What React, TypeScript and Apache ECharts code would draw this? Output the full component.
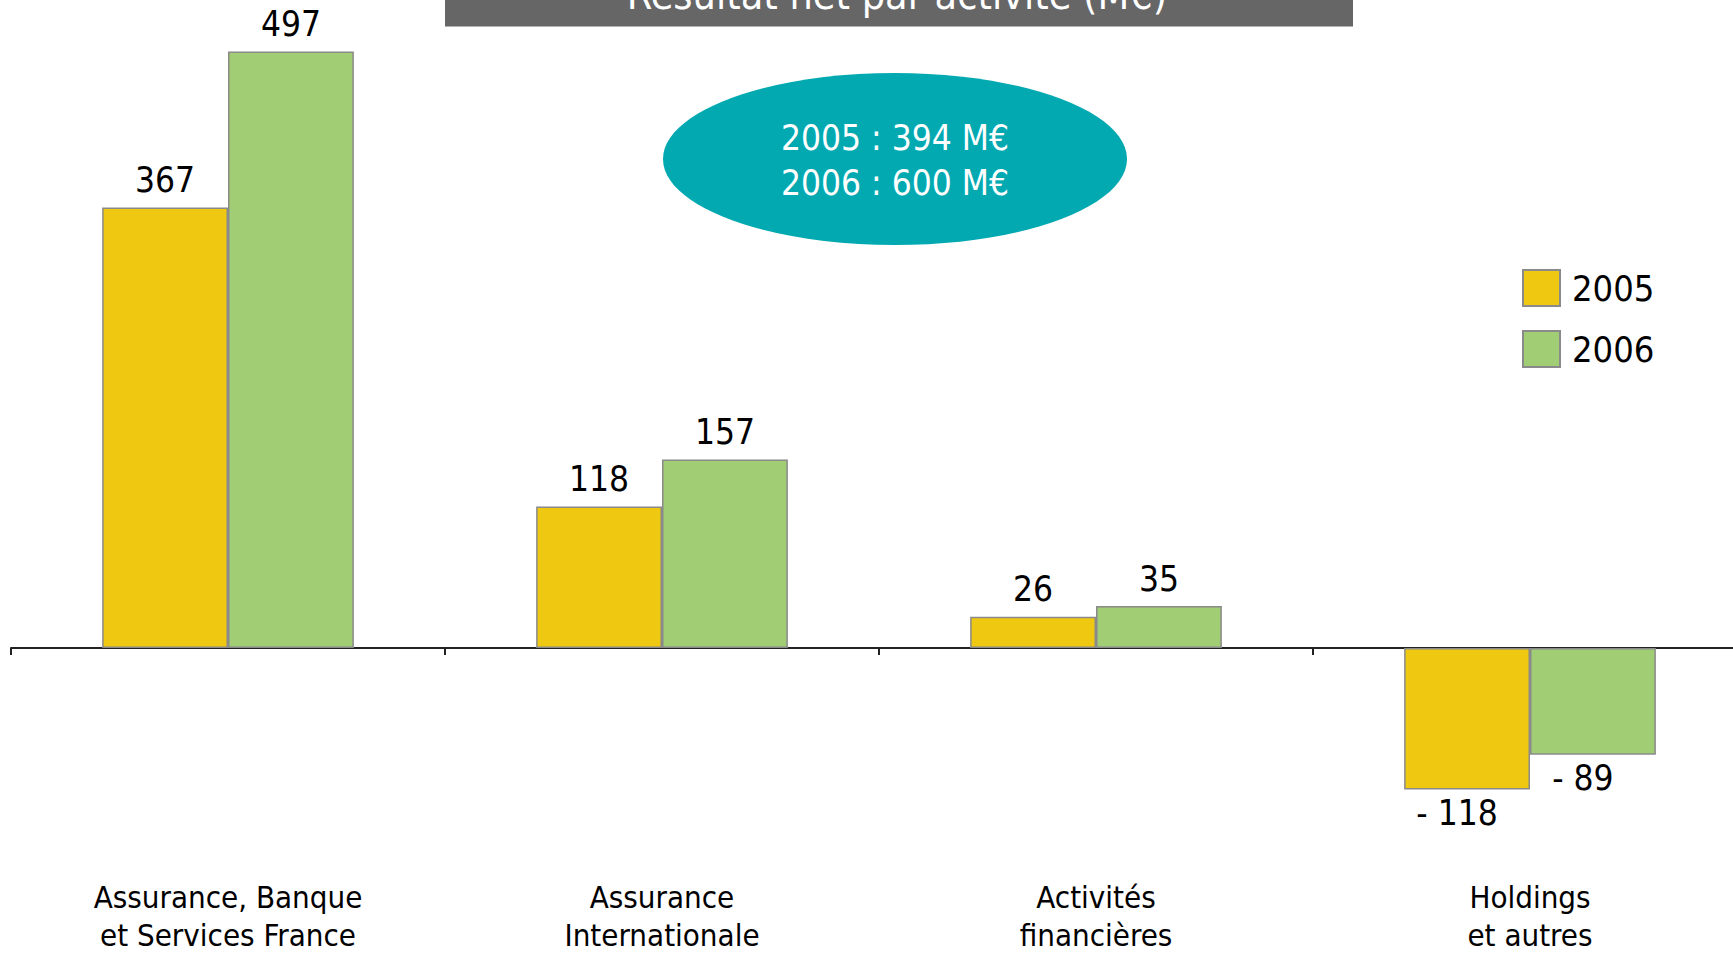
import React, { useEffect, useRef } from "react";
import * as echarts from "echarts";

const categories = [
  "Assurance, Banque\net Services France",
  "Assurance\nInternationale",
  "Activités\nfinancières",
  "Holdings\net autres",
];
const seriesNames = ["2005", "2006"];
const values2005 = [367, 118, 26, -118];
const values2006 = [497, 157, 35, -89];
const titleText = "Résultat net par activité (M€)";
const totalsText = "2005 : 394 M€\n2006 : 600 M€";

const FONT = "'DejaVu Sans Condensed', 'DejaVu Sans', sans-serif";

function fmt(v: number) {
  return v < 0 ? "- " + Math.abs(v) : String(v);
}

function toData(vals: number[]) {
  return vals.map((v) => ({
    value: v,
    label:
      v < 0
        ? { position: "bottom", distance: 4, offset: [-10, 2] }
        : { position: "top", distance: 10 },
  }));
}

export default function App() {
  const ref = useRef<HTMLDivElement>(null);
  useEffect(() => {
    if (!ref.current) return;
    const chart = echarts.init(ref.current, undefined, { renderer: "svg" });
    const labelCommon = {
      show: true,
      color: "#000",
      fontSize: 35,
      fontFamily: FONT,
      formatter: (p: any) => fmt(p.value),
    };
    chart.setOption({
      animation: false,
      backgroundColor: "#fff",
      textStyle: { fontFamily: FONT },
      grid: {
        left: 11,
        top: 48,
        width: 1736,
        height: 828,
        containLabel: false,
        outerBoundsMode: "none",
      },
      legend: {
        orient: "vertical",
        left: 1517,
        top: 264,
        icon: "rect",
        itemWidth: 37,
        itemHeight: 36,
        itemGap: 23,
        data: seriesNames,
        textStyle: { fontSize: 36, color: "#000", fontFamily: FONT, padding: [0, 0, 0, 7] },
      },
      xAxis: {
        type: "category",
        data: categories,
        boundaryGap: true,
        axisLine: { show: true, onZero: true, lineStyle: { color: "#222", width: 2 } },
        axisTick: { show: true, alignWithLabel: false, length: 7, lineStyle: { color: "#222", width: 2 } },
        axisLabel: {
          margin: 2,
          fontSize: 31,
          lineHeight: 38,
          color: "#000",
          fontFamily: FONT,
          interval: 0,
        },
      },
      yAxis: {
        type: "value",
        min: -190,
        max: 500,
        show: false,
        splitLine: { show: false },
      },
      series: [
        {
          name: seriesNames[0],
          type: "bar",
          data: toData(values2005),
          barGap: "0%",
          barCategoryGap: "42%",
          itemStyle: { color: "#EFC911", borderColor: "#8a8a8a", borderWidth: 1.5 },
          label: labelCommon,
        },
        {
          name: seriesNames[1],
          type: "bar",
          data: toData(values2006),
          barGap: "0%",
          barCategoryGap: "42%",
          itemStyle: { color: "#A1CD74", borderColor: "#8a8a8a", borderWidth: 1.5 },
          label: labelCommon,
        },
      ],
      graphic: [
        {
          type: "rect",
          shape: { x: 445, y: -10, width: 908, height: 36.5 },
          style: { fill: "#666666" },
          z: 10,
        },
        {
          type: "text",
          x: 897,
          y: -5,
          z: 11,
          style: {
            text: titleText,
            fill: "#fff",
            fontSize: 41,
            fontFamily: FONT,
            align: "center",
            verticalAlign: "middle",
          },
        },
        {
          type: "ellipse",
          shape: { cx: 895, cy: 159, rx: 232, ry: 86 },
          style: { fill: "#03A9B1" },
          z: 10,
        },
        {
          type: "text",
          x: 895,
          y: 160,
          z: 11,
          style: {
            text: totalsText,
            fill: "#fff",
            fontSize: 35,
            lineHeight: 45,
            fontFamily: FONT,
            align: "center",
            verticalAlign: "middle",
          },
        },
      ],
    });
    return () => chart.dispose();
  }, []);
  return (
    <div
      ref={ref}
      style={{ position: "absolute", left: 0, top: 0, width: 1733, height: 953 }}
    />
  );
}
